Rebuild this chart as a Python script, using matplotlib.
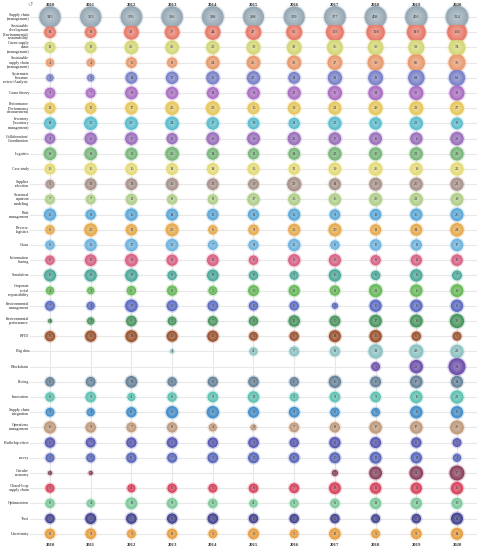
import numpy as np
import matplotlib
matplotlib.use('Agg')
import matplotlib.pyplot as plt
from matplotlib.colors import to_rgb

nan = np.nan

years = ['2010', '2011', '2012', '2013', '2014', '2015', '2016', '2017', '2018', '2019', '2020']

topics = [
    'Supply chain\n(management)',
    'Sustainable\ndevelopment\n(Environmental)\nsustainability',
    'Green supply\nchain\n(management)',
    'Sustainable\nsupply chain\n(management)',
    'Systematic\nliterature\nreview/Analysis',
    'Game theory',
    'Performance\n(Performance\nmeasurement)',
    'Inventory\n(Inventory\nmanagement)',
    'Collaboration/\nCoordination',
    'Logistics',
    'Case study',
    'Supplier\nselection',
    'Structural\nequation\nmodeling',
    'Risk\nmanagement',
    'Reverse\nlogistics',
    'China',
    'Information\nsharing',
    'Simulation',
    'Corporate\nsocial\nresponsibility',
    'Environmental\nmanagement',
    'Environmental\nperformance',
    'RFID',
    'Big data',
    'Blockchain',
    'Pricing',
    'Innovation',
    'Supply chain\nintegration',
    'Operations\nmanagement',
    'Bullwhip effect',
    'survey',
    'Circular\neconomy',
    'Closed-loop\nsupply chain',
    'Optimization',
    'Trust',
    'Uncertainty',
]

# counts per topic per year (nan = not shown)
counts = [
    [345, 323, 376, 356, 388, 298, 309, 377, 408, 456, 524],
    [14, 13, 38, 37, 44, 47, 56, 103, 128, 149, 194],
    [11, 13, 26, 26, 22, 30, 39, 56, 50, 58, 74],
    [4, 4, 10, 8, 24, 26, 30, 37, 59, 85, 76],
    [3, 3, 14, 17, 22, 23, 14, 31, 38, 64, 61],
    [9, 7, 18, 16, 14, 18, 21, 30, 34, 30, 39],
    [11, 12, 17, 25, 28, 15, 19, 21, 29, 28, 27],
    [14, 22, 20, 24, 17, 13, 11, 22, 16, 22, 13],
    [9, 16, 17, 11, 19, 19, 21, 17, 18, 16, 23],
    [18, 18, 15, 25, 14, 11, 14, 23, 20, 21, 23],
    [10, 16, 15, 14, 14, 15, 12, 19, 26, 19, 23],
    [5, 13, 13, 16, 13, 10, 30, 14, 19, 20, 21],
    [7, 7, 11, 8, 8, 17, 15, 16, 20, 21, 19],
    [15, 8, 16, 14, 12, 11, 15, 9, 12, 15, 20],
    [6, 20, 12, 20, 6, 9, 15, 20, 11, 14, 24],
    [6, 15, 17, 16, 7, 8, 16, 6, 12, 11, 17],
    [6, 13, 18, 11, 13, 6, 15, 15, 8, 11, 12],
    [15, 15, 17, 6, 13, 6, 5, 16, 6, 16, 7],
    [4, 3, 6, 8, 5, 10, 11, 8, 21, 16, 19],
    [7, 4, 17, 10, 9, 6, 6, 2, 15, 16, 16],
    [1, 3, 9, 5, 7, 6, 12, 10, 17, 19, 30],
    [8, 11, 14, 10, 11, 5, 6, 14, 16, 6, 5],
    [nan, nan, nan, 1, nan, 4, 7, 8, 31, 29, 23],
    [nan, nan, nan, nan, nan, nan, nan, nan, 5, 22, 74],
    [6, 7, 13, 6, 8, 9, 6, 16, 10, 17, 14],
    [6, 9, 4, 6, 9, 12, 5, 9, 9, 16, 21],
    [5, 4, 8, 15, 16, 10, 9, 6, 5, 16, 15],
    [15, 9, 7, 8, 4, 2, 7, 8, 17, 17, 26],
    [8, 7, 8, 9, 8, 9, 6, 11, 10, 8, 5],
    [5, 5, 8, 7, 9, 10, 8, 10, 13, 11, 4],
    [1, 1, nan, nan, nan, nan, nan, 2, 19, 24, 37],
    [5, nan, 4, 6, 5, 6, 7, 13, 11, 11, 16],
    [6, 4, 13, 9, 6, 4, 5, 6, 11, 11, 10],
    [6, 10, 9, 8, 9, 6, 6, 6, 5, 6, 14],
    [8, 9, 5, 8, 5, 10, 5, 12, 5, 9, 14],
]

colors = [
    '#9fb2be', '#f2806e', '#dfe27c', '#f4a274', '#7f88d2', '#b373cc', '#f2d263',
    '#5fc6d8', '#a274c6', '#7fbf80', '#f0e67e', '#b09a91', '#b8d98f', '#5fb0e3',
    '#f2b352', '#72bbe9', '#e2648a', '#4fb0a2', '#6cc25c', '#5f6fcb', '#4b9b62',
    '#a2542e', '#93cbcb', '#7252b3', '#6a88a0', '#62cbb9', '#4493d2', '#c9a282',
    '#5a5abb', '#5a6ac2', '#8f4462', '#e2445f', '#82d2a2', '#434396', '#f2a542',
]


def radius_px(v):
    return 2.0 + 1.5 * np.log(v)


def mix(c, target, t):
    c = np.array(to_rgb(c))
    return tuple(c + (np.array(to_rgb(target)) - c) * t)


def main():
    dpi = 100
    fig = plt.figure(figsize=(4.81, 5.5), dpi=dpi)
    ax = fig.add_axes([0, 0, 1, 1])
    ax.axis('off')

    # pixel layout
    x0, dx = 50.0, 40.7
    y0, dy = 17.0, 15.2
    ax.set_xlim(-x0 / dx, 10 + (481 - (x0 + 10 * dx)) / dx)
    ax.set_ylim(34 + (550 - (y0 + 34 * dy)) / dy, -y0 / dy)

    n = len(topics)
    px2pt = 72.0 / dpi

    # grid
    for j in range(n):
        ax.plot([(30 - x0) / dx, (476 - x0) / dx], [j, j], color='#e8e8e8', lw=0.8, zorder=0)
    for i in range(len(years)):
        ax.plot([i, i], [(10 - y0) / dy, (540 - y0) / dy], color='#e8e8e8', lw=0.8, zorder=0)

    for j in range(n):
        ax.text((29 - x0) / dx, j, topics[j], ha='right', va='center', fontsize=2.9,
                family='Liberation Serif', color='#222222', linespacing=1.05)
        vals = np.array(counts[j], dtype=float)
        xs = np.arange(len(years))[~np.isnan(vals)]
        vv = vals[~np.isnan(vals)]
        r = radius_px(vv)
        # halo
        ax.scatter(xs, [j] * len(xs), s=(2 * (r + 1.4) * px2pt) ** 2, color=colors[j],
                   alpha=0.25, lw=0, zorder=2)
        # shaded sphere, slightly darker edge to light centre
        layers = 7
        for k in range(layers):
            t = k / (layers - 1)
            col = mix(mix(colors[j], 'black', 0.05), 'white', 0.3 * t)
            rr = r * (1 - 0.75 * t)
            ax.scatter(xs, [j] * len(xs), s=(2 * rr * px2pt) ** 2, color=col, lw=0, zorder=3 + k)
        for x, v in zip(xs, vv):
            ax.text(x, j, str(int(v)), ha='center', va='center', fontsize=3.2,
                    family='Liberation Serif', color='#333333', zorder=20)

    for i, yr in enumerate(years):
        ax.text(i, (5 - y0) / dy, yr, ha='center', va='center', fontsize=3.4,
                family='Liberation Serif', fontweight='bold', color='#333333')
        ax.text(i, (545 - y0) / dy, yr, ha='center', va='center', fontsize=3.4,
                family='Liberation Serif', fontweight='bold', color='#333333')

    # small reset icon top left
    ax.text((30 - x0) / dx, (4 - y0) / dy, '\u21ba', ha='center', va='center', fontsize=4.5,
            family='DejaVu Sans', color='#999999')

    fig.savefig('out.png', dpi=dpi)


if __name__ == '__main__':
    main()
